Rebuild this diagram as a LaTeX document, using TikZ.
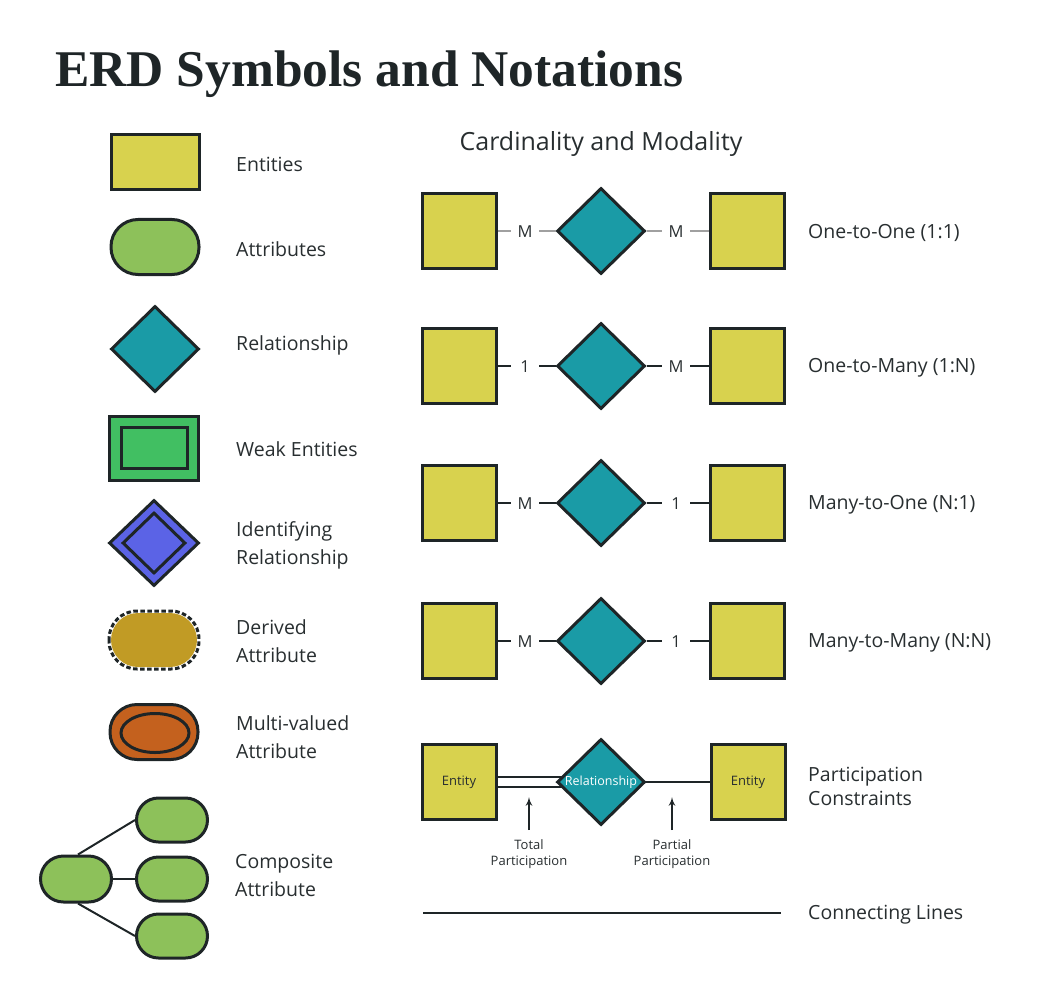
\documentclass[tikz,border=0pt]{standalone}
\usepackage{fontspec}
\setmainfont{Open Sans}
\newfontfamily\titlefont{Liberation Serif}
\usetikzlibrary{shapes,arrows,positioning}
\pgfdeclarelayer{background}
\pgfsetlayers{background,main}
\definecolor{inkdark}{RGB}{30,37,39}
\definecolor{inktext}{RGB}{40,46,48}
\definecolor{entityyellow}{RGB}{216,210,78}
\definecolor{attrgreen}{RGB}{141,193,90}
\definecolor{relteal}{RGB}{26,155,166}
\definecolor{weakgreen}{RGB}{65,191,98}
\definecolor{idblue}{RGB}{91,99,230}
\definecolor{derivedgold}{RGB}{193,155,37}
\definecolor{multiorange}{RGB}{196,97,30}
\definecolor{linegray}{RGB}{160,160,160}
\tikzstyle{shapebase} = [draw=inkdark, line width=3pt, inner sep=0pt]
\tikzstyle{entity} = [shapebase, rectangle, fill=entityyellow,
    minimum width=88pt, minimum height=55pt]
\tikzstyle{square} = [shapebase, rectangle, fill=entityyellow, text=inktext,
    minimum width=74pt, minimum height=75pt, font=\fontsize{13}{15}\selectfont]
\tikzstyle{attrib} = [shapebase, rectangle, rounded corners=27pt, fill=attrgreen,
    minimum width=88pt, minimum height=55pt]
\tikzstyle{relation} = [shapebase, diamond, fill=relteal,
    minimum width=88pt, minimum height=86pt]
\tikzstyle{legend} = [anchor=west, align=left, text=inktext,
    font=\fontsize{19.5}{28}\selectfont, inner sep=0pt]
\tikzstyle{card} = [text=inktext, minimum width=28pt, inner sep=0pt,
    font=\fontsize{16.5}{18}\selectfont]
\tikzstyle{note} = [text=inktext, align=center, inner sep=0pt,
    font=\fontsize{13}{16}\selectfont]
\tikzstyle{link} = [draw=inkdark, line width=2pt]
\tikzstyle{arrow} = [draw=inkdark, line width=2pt, -latex']

\begin{document}
\begin{tikzpicture}[x=1pt, y=-1pt]
  \useasboundingbox (0,0) rectangle (1056,1000);

  \node[anchor=base west, inner sep=0pt, text=inkdark,
    font=\titlefont\bfseries\fontsize{51.5}{60}\selectfont] (title) at (55,87)
    {ERD Symbols and Notations};

  % symbol column
  \node[entity] (ent) at (155,162) {};
  \node[legend] (entlbl) at (236,164) {Entities};

  \node[attrib] (att) at (155,247) {};
  \node[legend] (attlbl) at (236,249) {Attributes};

  \node[relation] (rel) at (155,349) {};
  \node[legend] (rellbl) at (236,345) {Relationship};

  \node[entity, fill=weakgreen, minimum width=89pt, minimum height=64pt] (weak) at (154,448) {};
  \node[shapebase, fill=weakgreen, minimum width=66pt, minimum height=41pt] (weakin) at (154,448) {};
  \node[legend] (weaklbl) at (236,449) {Weak Entities};

  \node[relation, fill=idblue, minimum width=90pt, minimum height=86pt] (idrel) at (154,543) {};
  \node[relation, fill=idblue, minimum width=63pt, minimum height=61pt] (idrelin) at (154,543) {};
  \node[legend] (idrellbl) at (236,545) {Identifying\\Relationship};

  \node[attrib, fill=derivedgold, draw=none, minimum width=86pt, minimum height=54pt] (der) at (154,640) {};
  \draw[inkdark, line width=3pt, dash pattern=on 4.5pt off 2.5pt, rounded corners=28pt]
    (109,611) rectangle (199,669);
  \node[legend] (derlbl) at (236,641) {Derived\\Attribute};

  \node[attrib, fill=multiorange] (multi) at (154,732) {};
  \node[shapebase, ellipse, fill=multiorange, minimum width=68pt, minimum height=39pt] (multiin) at (155,733) {};
  \node[legend] (multilbl) at (236,737) {Multi-valued\\Attribute};

  \node[attrib, minimum width=71pt, minimum height=46pt, rounded corners=23pt] (comp) at (76,879) {};
  \node[attrib, minimum width=71pt, minimum height=44pt, rounded corners=22pt] (compa) at (172,820) {};
  \node[attrib, minimum width=71pt, minimum height=44pt, rounded corners=22pt] (compb) at (172,879) {};
  \node[attrib, minimum width=71pt, minimum height=44pt, rounded corners=22pt] (compc) at (172,936) {};
  \draw[link] ([xshift=2pt]comp.north) -- (compa.west);
  \draw[link] (comp.east) -- (compb.west);
  \draw[link] ([xshift=2pt]comp.south) -- (compc.west);
  \node[legend] (complbl) at (235,875) {Composite\\Attribute};

  % cardinality rows
  \node[text=inktext, font=\fontsize{25}{30}\selectfont] (cardhead) at (601,144)
    {Cardinality and Modality};

  \foreach \i/\y/\lc/\rc/\txt/\col in {1/231/M/M/One-to-One (1:1)/linegray,
      2/366/1/M/One-to-Many (1:N)/inkdark,
      3/503/M/1/Many-to-One (N:1)/inkdark,
      4/641/M/1/Many-to-Many (N:N)/inkdark} {
    \node[square] (left\i) at (459,\y) {};
    \node[relation] (mid\i) at (601,\y) {};
    \node[square] (right\i) at (747,\y) {};
    \node[card] (lc\i) at (525,\y+1) {\lc};
    \node[card] (rc\i) at (676,\y+1) {\rc};
    \draw[link, draw=\col] (left\i.east) -- (left\i.east -| lc\i.west);
    \draw[link, draw=\col] (mid\i.west -| lc\i.east) -- (mid\i.west);
    \draw[link, draw=\col] (mid\i.east) -- (mid\i.east -| rc\i.west);
    \draw[link, draw=\col] (right\i.west -| rc\i.east) -- (right\i.west);
    \node[legend] (row\i) at (808,\y+2) {\txt};
  }

  % participation constraints
  \node[square] (pent) at (459,782) {Entity};
  \node[relation, text=white, font=\fontsize{12.5}{15}\selectfont] (prel) at (601,782) {Relationship};
  \node[square] (pent2) at (748,782) {Entity};
  \begin{pgfonlayer}{background}
    \draw[link, double=white, double distance=8pt] (pent.center) -- (prel.center);
    \draw[link] (prel.center) -- (pent2.center);
  \end{pgfonlayer}
  \node[legend, font=\fontsize{19.5}{24}\selectfont] (partlbl) at (808,786) {Participation\\Constraints};

  \coordinate (totalfoot) at (529,830);
  \coordinate (totalhead) at (529,797);
  \draw[arrow] (totalfoot) -- (totalhead);
  \node[note, below=9pt of totalfoot] (totallbl) {Total\\Participation};

  \coordinate (partfoot) at (672,830);
  \coordinate (parthead) at (672,797);
  \draw[arrow] (partfoot) -- (parthead);
  \node[note, below=9pt of partfoot] (partiallbl) {Partial\\Participation};

  % connecting line
  \coordinate (linestart) at (423,913);
  \coordinate (lineend) at (781,913);
  \draw[link] (linestart) -- (lineend);
  \node[legend] (connlbl) at (808,915) {Connecting Lines};
\end{tikzpicture}
\end{document}
